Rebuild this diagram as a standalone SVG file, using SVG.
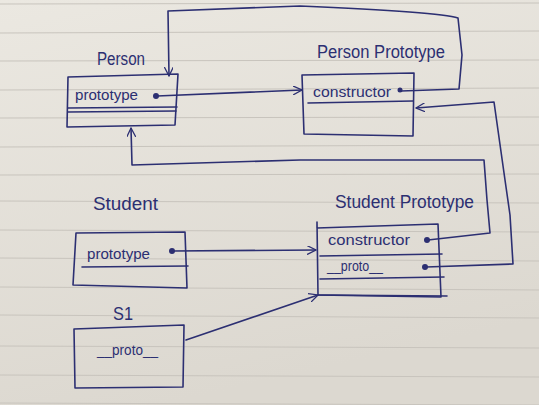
<svg xmlns="http://www.w3.org/2000/svg" width="539" height="405" viewBox="0 0 539 405">
<defs>
<linearGradient id="paper" x1="0" y1="0" x2="0.3" y2="1">
<stop offset="0" stop-color="#ebe8e1"/>
<stop offset="1" stop-color="#dcd8d0"/>
</linearGradient>
<marker id="arr" viewBox="0 0 10 10" refX="10" refY="5" markerWidth="9" markerHeight="9" markerUnits="userSpaceOnUse" orient="auto">
<path d="M0,0 L10,5 L0,10" fill="none" stroke="#2c2f72" stroke-width="1.4"/>
</marker>
</defs>
<style>
.ink{fill:none;stroke:#2c2f72;stroke-width:1.6;stroke-linejoin:round;stroke-linecap:round}
.rule{stroke:#c8c4bd;stroke-width:1}
.t{font-family:"Liberation Sans","DejaVu Sans",sans-serif;fill:#2c2f72}
.title{font-size:18px}
.field{font-size:14px}
.dot{fill:#2c2f72}
</style>
<rect width="539" height="405" fill="url(#paper)"/>
<g id="rules">
<line class="rule" x1="0" y1="4" x2="539" y2="3"/>
<line class="rule" x1="0" y1="33" x2="539" y2="31"/>
<line class="rule" x1="0" y1="61" x2="539" y2="60"/>
<line class="rule" x1="0" y1="90" x2="539" y2="88"/>
<line class="rule" x1="0" y1="118" x2="539" y2="117"/>
<line class="rule" x1="0" y1="147" x2="539" y2="145"/>
<line class="rule" x1="0" y1="175" x2="539" y2="174"/>
<line class="rule" x1="0" y1="201" x2="539" y2="203"/>
<line class="rule" x1="0" y1="230" x2="539" y2="232"/>
<line class="rule" x1="0" y1="258" x2="539" y2="261"/>
<line class="rule" x1="0" y1="287" x2="539" y2="290"/>
<line class="rule" x1="0" y1="315" x2="539" y2="318"/>
<line class="rule" x1="0" y1="346" x2="539" y2="348"/>
<line class="rule" x1="0" y1="375" x2="539" y2="377"/>
<line class="rule" x1="0" y1="403" x2="539" y2="405"/>
</g>
<g id="person">
<text class="t title" x="97" y="65" textLength="48" lengthAdjust="spacingAndGlyphs">Person</text>
<path class="ink" d="M68,77 L178,74 L175,125 L67,127 Z"/>
<path class="ink" d="M68,108 L177,107 M68,112 L176,111"/>
<text class="t field" x="75" y="100" textLength="63" lengthAdjust="spacingAndGlyphs">prototype</text>
<circle class="dot" cx="156" cy="96" r="3"/>
</g>
<g id="person-prototype">
<text class="t title" x="317" y="58" textLength="128" lengthAdjust="spacingAndGlyphs">Person Prototype</text>
<path class="ink" d="M302,75 L414,73 L413,136 L304,134 Z"/>
<path class="ink" d="M308,103 L413,101"/>
<text class="t field" x="313" y="97" textLength="78" lengthAdjust="spacingAndGlyphs">constructor</text>
<circle class="dot" cx="400" cy="90" r="2.5"/>
</g>
<g id="student">
<text class="t title" x="93" y="210" textLength="65" lengthAdjust="spacingAndGlyphs">Student</text>
<path class="ink" d="M76,233 L185,232 L187,288 L73,285 Z"/>
<path class="ink" d="M82,267 L188,266"/>
<text class="t field" x="87" y="259" textLength="63" lengthAdjust="spacingAndGlyphs">prototype</text>
<circle class="dot" cx="172" cy="251" r="3"/>
</g>
<g id="s1">
<text class="t title" x="113" y="320" textLength="20" lengthAdjust="spacingAndGlyphs">S1</text>
<path class="ink" d="M74,329 L184,325 L183,387 L75,388 Z"/>
<text class="t field" x="97" y="355" textLength="61" lengthAdjust="spacingAndGlyphs">__proto__</text>
</g>
<g id="student-prototype">
<text class="t title" x="335" y="208" textLength="139" lengthAdjust="spacingAndGlyphs">Student Prototype</text>
<path class="ink" d="M317,222 L317,228 L438,224 L441,297 L318,295 Z"/>
<path class="ink" d="M320,256 L442,254 M320,279 L444,277 M318,295 L447,296"/>
<text class="t field" x="328" y="245" textLength="82" lengthAdjust="spacingAndGlyphs">constructor</text>
<circle class="dot" cx="427" cy="240" r="3"/>
<text class="t field" x="327" y="271" textLength="56" lengthAdjust="spacingAndGlyphs">__proto__</text>
<circle class="dot" cx="425" cy="267" r="3"/>
</g>
<g id="connectors">
<path class="ink" marker-end="url(#arr)" d="M157,96 L302,90"/>
<path class="ink" marker-end="url(#arr)" d="M401,91 L459,89 L462,55 L458,18 Q440,12 300,6 L168,11 L169,76"/>
<path class="ink" marker-end="url(#arr)" d="M428,240 L490,233 L487,200 L484,160 L300,160 L132,165 L131,128"/>
<path class="ink" marker-end="url(#arr)" d="M426,267 L513,264 L510,215 L505,180 L494,102 L416,108"/>
<path class="ink" marker-end="url(#arr)" d="M173,251 L316,250"/>
<path class="ink" marker-end="url(#arr)" d="M186,340 L318,295"/>
</g>
</svg>
